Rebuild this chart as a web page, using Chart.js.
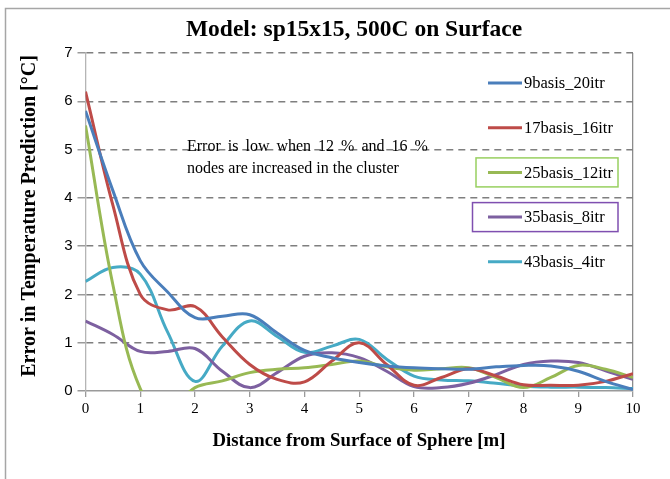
<!DOCTYPE html>
<html>
<head>
<meta charset="utf-8">
<script src="https://cdn.jsdelivr.net/npm/chart.js@4.4.1/dist/chart.umd.min.js"></script>
<style>
  html, body { margin: 0; padding: 0; background: #fff; }
  #wrap { width: 670px; height: 479px; position: relative; }
</style>
</head>
<body>
<div id="wrap"><canvas id="chart" width="670" height="479"></canvas></div>
<script>
const distances = [0, 0.5, 1, 1.5, 2, 2.5, 3, 3.5, 4, 4.5, 5, 5.5, 6, 6.5, 7, 7.5, 8, 8.5, 9, 9.5, 10];

const basis9 = [5.8, 4.15, 2.7, 2.05, 1.52, 1.55, 1.58, 1.2, 0.84, 0.69, 0.59, 0.52, 0.48, 0.46, 0.45, 0.5, 0.53, 0.52, 0.41, 0.2, 0.03];
const basis17 = [6.2, 3.85, 2.0, 1.68, 1.75, 1.12, 0.55, 0.24, 0.19, 0.62, 1.0, 0.55, 0.12, 0.28, 0.46, 0.31, 0.13, 0.12, 0.12, 0.2, 0.36];
const basis25 = [5.5, 2.2, 0.05, -0.4, 0.07, 0.21, 0.38, 0.45, 0.48, 0.55, 0.62, 0.5, 0.43, 0.46, 0.48, 0.28, 0.07, 0.28, 0.53, 0.45, 0.28];
const basis35 = [1.45, 1.17, 0.82, 0.82, 0.88, 0.41, 0.07, 0.38, 0.72, 0.79, 0.69, 0.41, 0.09, 0.07, 0.16, 0.34, 0.55, 0.62, 0.59, 0.42, 0.24];
const basis43 = [2.27, 2.56, 2.42, 1.22, 0.2, 0.93, 1.45, 1.13, 0.8, 0.93, 1.07, 0.66, 0.31, 0.23, 0.21, 0.16, 0.1, 0.08, 0.08, 0.07, 0.05];

const seriesLabels = ['9basis_20itr', '17basis_16itr', '25basis_12itr', '35basis_8itr', '43basis_4itr'];
const seriesColours = ['#4a7ebb', '#be4b48', '#98b954', '#7d60a0', '#46aac5'];
const seriesValues = [basis9, basis17, basis25, basis35, basis43];

const chartTitle = 'Model: sp15x15, 500C on Surface';
const xTitle = 'Distance from Surface of Sphere [m]';
const yTitle = 'Error in Temperature Prediction [°C]';
const noteLines = ['Error is low when 12 % and 16 %', 'nodes are increased in the cluster'];

const serif = "'Liberation Serif', 'Times New Roman', serif";
const sans = "'Liberation Sans', Arial, sans-serif";

// legend entries that get a coloured frame round them
const framedEntries = { 2: '#98d060', 3: '#7f4fb0' };

const decorations = {
  id: 'decorations',
  beforeDraw(chart) {
    const { ctx } = chart;
    ctx.save();
    ctx.fillStyle = '#fff';
    ctx.fillRect(0, 0, chart.width, chart.height);
    ctx.strokeStyle = '#a6a6a6';
    ctx.lineWidth = 1.5;
    ctx.beginPath();
    ctx.moveTo(5.5, chart.height);
    ctx.lineTo(5.5, 8.5);
    ctx.lineTo(chart.width, 8.5);
    ctx.stroke();
    ctx.restore();
  },
  afterDraw(chart) {
    const { ctx } = chart;
    ctx.save();
    ctx.fillStyle = '#000';
    ctx.textAlign = 'center';
    ctx.textBaseline = 'middle';

    ctx.font = `bold 23.5px ${serif}`;
    ctx.fillText(chartTitle, 354, 30);

    ctx.font = `bold 18.8px ${serif}`;
    ctx.fillText(xTitle, 359, 441);

    ctx.save();
    ctx.translate(30, 216);
    ctx.rotate(-Math.PI / 2);
    ctx.font = `bold 20px ${serif}`;
    ctx.fillText(yTitle, 0, 0);
    ctx.restore();

    // note inside the plot
    ctx.textAlign = 'left';
    ctx.font = `16px ${serif}`;
    ctx.wordSpacing = '3px';
    ctx.fillText(noteLines[0], 187, 147);
    ctx.wordSpacing = '0px';
    ctx.fillText(noteLines[1], 187, 168.5);

    // legend
    ctx.font = `16.5px ${serif}`;
    chart.data.datasets.forEach((ds, i) => {
      const y = 83 + i * 44.7;
      if (framedEntries[i]) {
        ctx.strokeStyle = framedEntries[i];
        ctx.lineWidth = 1.5;
        const left = i === 2 ? 476 : 472.5;
        ctx.strokeRect(left, y - 14.5, 618 - left, 29);
      }
      ctx.strokeStyle = ds.borderColor;
      ctx.lineWidth = 3;
      ctx.beginPath();
      ctx.moveTo(488, y);
      ctx.lineTo(522, y);
      ctx.stroke();
      ctx.fillStyle = '#000';
      ctx.fillText(ds.label, 524, y + 1);
    });
    ctx.restore();
  },
};

const datasets = seriesValues.map((values, i) => ({
  label: seriesLabels[i],
  data: distances.map((x, j) => ({ x, y: values[j] })),
  borderColor: seriesColours[i],
  backgroundColor: seriesColours[i],
  borderWidth: 3,
  pointRadius: 0,
  tension: 0.38,
  fill: false,
}));

new Chart(document.getElementById('chart'), {
  type: 'line',
  data: { datasets },
  plugins: [decorations],
  options: {
    responsive: false,
    animation: false,
    layout: { padding: { top: 53, right: 37, left: 0, bottom: 0 } },
    plugins: {
      legend: { display: false },
      tooltip: { enabled: false },
      title: { display: false },
    },
    scales: {
      x: {
        type: 'linear',
        min: 0,
        max: 10,
        ticks: {
          stepSize: 1,
          color: '#000',
          font: { family: serif, size: 15 },
          padding: 3,
          maxRotation: 0,
        },
        grid: {
          color: (c) => (c.tick && c.tick.value === 10 ? '#8c8c8c' : 'rgba(0,0,0,0)'),
          tickColor: '#9a9a9a',
          tickLength: 6,
          lineWidth: 1.3,
        },
        border: { display: true, color: '#9a9a9a', width: 1.5 },
        afterFit(scale) {
          scale.height = 88;
        },
      },
      y: {
        min: 0,
        max: 7,
        ticks: {
          stepSize: 1,
          color: '#000',
          font: { family: sans, size: 15 },
          padding: 5,
        },
        grid: {
          color: (c) => (c.tick && c.tick.value === 0 ? 'rgba(0,0,0,0)' : '#7f7f7f'),
          tickColor: '#9a9a9a',
          tickLength: 8,
          lineWidth: 1.5,
          tickBorderDash: [],
        },
        border: { display: true, color: '#b5b5b5', width: 1.3, dash: [7, 5] },
        afterFit(scale) {
          scale.width = 85.5;
        },
      },
    },
  },
});
</script>
</body>
</html>
